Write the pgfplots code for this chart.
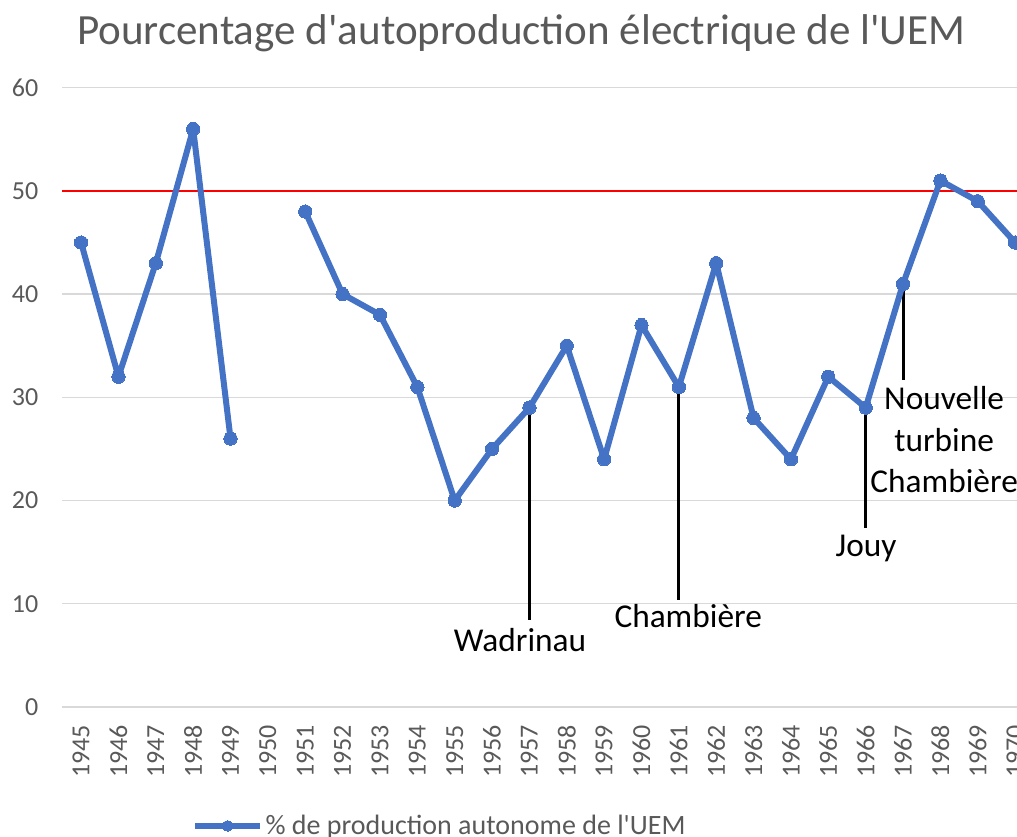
\documentclass[border=0pt]{standalone}
\usepackage{pgfplots}
\pgfplotsset{compat=1.18}
\usepackage{fontspec}
\setmainfont{Carlito}
\definecolor{serblue}{HTML}{4472C4}
\definecolor{txtgray}{HTML}{595959}
\begin{document}
\begin{tikzpicture}
\begin{axis}[
  x=28.02pt, y=7.74pt,
  xmin=1944.5, xmax=1970.5, ymin=0, ymax=60,
  axis line style={draw=none},
  major tick length=0pt,
  ymajorgrids, grid style={gray!30, line width=1pt},
  ytick={0,10,...,60},
  xtick={1945,...,1970},
  xticklabel style={yshift=-10pt, rotate=90, anchor=east, font=\fontsize{19.5}{22}\selectfont, text=txtgray, /pgf/number format/1000 sep={}},
  yticklabel style={font=\fontsize{19.5}{22}\selectfont, text=txtgray, xshift=-14.5pt},
  /pgf/number format/assume math mode=true,
  /pgf/number format/1000 sep={},
  clip=false,
  unbounded coords=jump,
  legend style={at={(0.389,-0.192)}, anchor=center, draw=none, fill=none,
    font=\fontsize{21}{25}\selectfont, text=txtgray},
  legend image code/.code={\draw[mark repeat=2,mark phase=2,mark size=4pt, line join=round] plot coordinates {(0cm,0cm)(0.85cm,0cm)(1.7cm,0cm)};},
]
% reference line
\addplot[red, line width=1.6pt, forget plot] coordinates {(1944.5,50) (1970.5,50)};
% annotation lines
\addplot[black, line width=2.2pt, forget plot] coordinates {(1957,29) (1957,8.4)};
\addplot[black, line width=2.2pt, forget plot] coordinates {(1961,31) (1961,10.4)};
\addplot[black, line width=2.2pt, forget plot] coordinates {(1966,29) (1966,17.3)};
\addplot[black, line width=2.2pt, forget plot] coordinates {(1967,41) (1967,31.7)};
% data
\addplot[serblue, line width=4.5pt, line join=round, mark=*, mark size=5pt, mark options={line width=0pt}] coordinates {
(1945,45) (1946,32) (1947,43) (1948,56) (1949,26) (1950,nan)
(1951,48) (1952,40) (1953,38) (1954,31) (1955,20) (1956,25)
(1957,29) (1958,35) (1959,24) (1960,37) (1961,31) (1962,43)
(1963,28) (1964,24) (1965,32) (1966,29) (1967,41) (1968,51)
(1969,49) (1970,45)};
\addlegendentry{\% de production autonome de l\textquotesingle UEM}
% labels
\node[font=\fontsize{25}{30}\selectfont] at (axis cs:1956.75,6.5) {Wadrinau};
\node[font=\fontsize{25}{30}\selectfont] at (axis cs:1961.25,8.8) {Chambière};
\node[font=\fontsize{25}{30}\selectfont] at (axis cs:1966.01,15.4) {Jouy};
\node[font=\fontsize{25}{30}\selectfont] at (axis cs:1968.1,29.9) {Nouvelle};
\node[font=\fontsize{25}{30}\selectfont] at (axis cs:1968.1,25.9) {turbine};
\node[font=\fontsize{25}{30}\selectfont] at (axis cs:1968.1,21.9) {Chambière};
% title
\node[font=\fontsize{32.3}{38}\selectfont, text=txtgray] at (axis cs:1956.78,65.3) {Pourcentage d\textquotesingle autoproduction électrique de l\textquotesingle UEM};
\coordinate (bbll) at (axis cs:1942.83,-12.6);
\coordinate (bbur) at (axis cs:1970.05,68.5);
\end{axis}
\pgfresetboundingbox
\path[use as bounding box] (bbll) rectangle (bbur);
\end{tikzpicture}
\end{document}
